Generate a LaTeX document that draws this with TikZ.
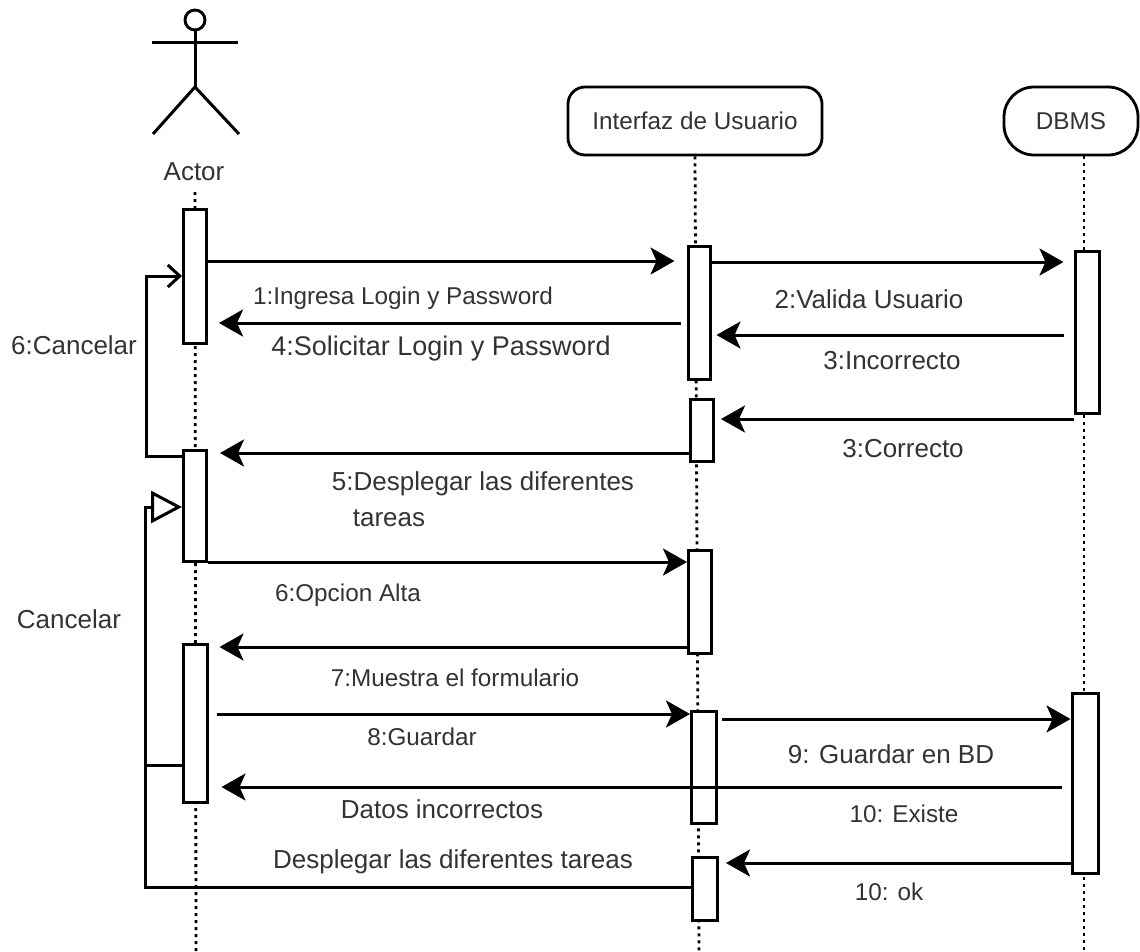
\documentclass[tikz,border=0pt]{standalone}
\usepackage{fontspec}
\setmainfont{Liberation Sans}
\usetikzlibrary{arrows.meta}
\tikzset{
  x=1pt,y=-1pt,
  every node/.style={font=\fontsize{26}{30}\selectfont,text=black!80,inner sep=0pt},
  tight/.style={font=\fontsize{24.3}{30}\selectfont},
  wide/.style={font=\fontsize{27}{30}\selectfont},
  bar/.style={draw=black,line width=3pt,fill=white,minimum width=#1,inner sep=0pt,anchor=north},
  head/.style={draw=black,line width=2.8pt,fill=white},
  msg/.style={line width=3pt,-{Stealth[length=24pt,width=27pt,inset=6pt]}},
  plainline/.style={line width=3pt},
  life/.style={line width=2.8pt,dash pattern=on 3pt off 4pt},
  lbl/.style={anchor=center,align=left},
}
\newcommand{\barbox}[5]{\node[bar=#3,minimum height=#5pt-#4pt] (#1) at (#2,#4) {};}
\begin{document}
\begin{tikzpicture}
\useasboundingbox (0,0) rectangle (1140,951);
\fill[white] (0,0) rectangle (1140,951);
% actor
\coordinate (hip) at (195,87);
\coordinate (armL) at (152,42); \coordinate (armR) at (238,42);
\coordinate (legL) at (153,134); \coordinate (legR) at (239,134);
\node[circle,draw=black,line width=2.9pt,minimum size=20pt] (headA) at (195,20) {};
\draw[plainline] (headA.south)--(hip);
\draw[plainline] (armL)--(armR);
\draw[plainline] (legL)--(hip)--(legR);
\node (actor) at (194,172) {Actor};
% heads
\node[head,tight,rounded corners=17pt,minimum width=254pt,minimum height=68pt] (ui) at (695,121) {Interfaz de Usuario};
\node[head,tight,rounded corners=30pt,minimum width=134pt,minimum height=68pt] (db) at (1071,121) {DBMS};
% lifelines
\coordinate (lA1) at (195,192); \coordinate (lA2) at (196,951);
\coordinate (lB2) at (699,951);
\coordinate (lC2) at (1084,951);
\draw[life] (lA1)--(lA2);
\draw[life] (ui.south)--(lB2);
\draw[life] (db.south -| lC2)--(lC2);
% activations
\barbox{a1}{195}{23pt}{208}{342}
\barbox{a2}{699}{22pt}{245}{378}
\barbox{d1}{1087}{24pt}{250}{412}
\barbox{a3}{702}{23pt}{398}{460}
\barbox{a4}{195}{23pt}{449}{560}
\barbox{a5}{700}{23pt}{549}{652}
\barbox{a6}{195}{24pt}{643}{801}
\barbox{a7}{704}{25pt}{710}{822}
\barbox{a8}{705}{25pt}{856}{919}
\barbox{d2}{1085}{26pt}{692}{872}
% messages
\draw[msg,shorten >=12pt] (a1.east |- 0,261) -- (a2.west |- 0,261);
\draw[msg,shorten >=10pt] (a2.east |- 0,262) -- (d1.west |- 0,262);
\draw[msg,shorten <=6pt,shorten >=11pt] (a2.west |- 0,323) -- (a1.east |- 0,323);
\draw[msg,shorten <=10pt,shorten >=5pt] (d1.west |- 0,335) -- (a2.east |- 0,335);
\draw[msg,shorten >=6pt] (d1.west |- 0,419) -- (a3.east |- 0,419);
\draw[msg,shorten >=12pt] (a3.west |- 0,453) -- (a4.east |- 0,453);
\draw[msg] (a4.east |- 0,562) -- (a5.west |- 0,562);
\draw[msg,shorten >=11pt] (a5.west |- 0,647) -- (a6.east |- 0,647);
\draw[msg,shorten <=8pt] (a6.east |- 0,714) -- (a7.west |- 0,714);
\draw[msg,shorten <=4pt] (a7.east |- 0,719) -- (d2.west |- 0,719);
\draw[msg,shorten <=9pt,shorten >=13pt] (d2.west |- 0,787) -- (a6.east |- 0,787);
\draw[msg,shorten >=7pt] (d2.west |- 0,863) -- (a8.east |- 0,863);
% loops
\coordinate (k1) at (146,456);
\coordinate (k2) at (146,276);
\draw[line width=3pt,-{Straight Barb[length=12pt,width=22pt]}] (a4.west |- k1) -- (k1) -- (k2) -- (a1.west |- k2);
\coordinate (k3) at (145,887);
\coordinate (k4) at (145,507);
\draw[plainline] (a8.west |- k3) -- (k3) -- (k4) -- (150,507);
\draw[line width=3pt,-{Triangle[open,length=31pt,width=32pt,fill=white]}] (150,507) -- (a4.west |- k4);
\coordinate (k5) at (145,765);
\draw[plainline] (a6.west |- k5) -- (k5);
% labels
\node[lbl,tight] (t1) at (403,298) {1:Ingresa Login y Password};
\node[lbl,wide] (t2) at (441,349) {4:Solicitar Login y Password};
\node[lbl] (t3) at (869,299) {2:Valida Usuario};
\node[lbl] (t4) at (892,361) {3:Incorrecto};
\node[lbl] (t5) at (903,449) {3:Correcto};
\node[lbl] (t6) at (483,484) {5:Desplegar las diferentes};
\node[lbl] (t6b) at (389,518) {tareas};
\node[lbl,tight] (t7) at (348,595) {6:Opcion Alta};
\node[lbl,tight] (t8) at (455,678) {7:Muestra el formulario};
\node[lbl,tight] (t9) at (422,737) {8:Guardar};
\node[lbl] (t10) at (891,754) {9: Guardar en BD};
\node[lbl] (t11) at (442,809) {Datos incorrectos};
\node[lbl,tight] (t12) at (904,814) {10: Existe};
\node[lbl] (t13) at (453,862) {Desplegar las diferentes tareas};
\node[lbl,tight] (t14) at (889,892) {10: ok};
\node[lbl] (t15) at (74,345) {6:Cancelar};
\node[lbl] (t16) at (69,619) {Cancelar};
\end{tikzpicture}
\end{document}
